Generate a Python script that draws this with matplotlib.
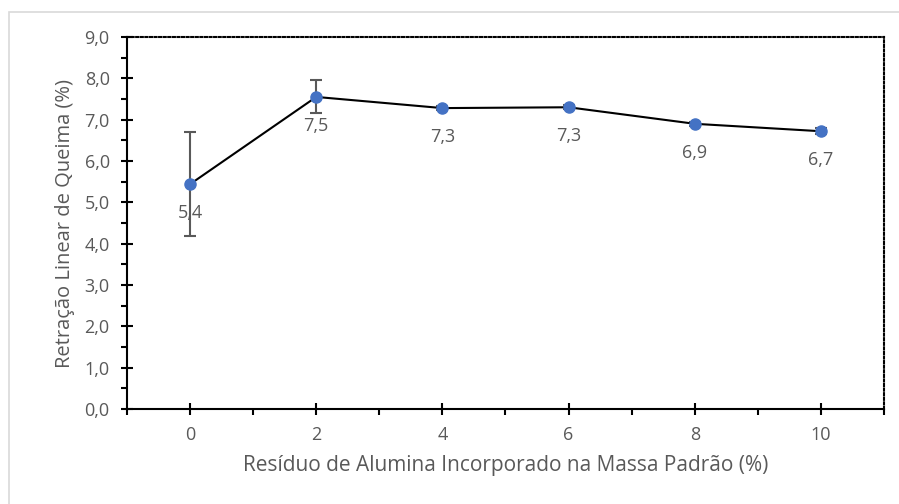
import matplotlib.pyplot as plt
from matplotlib.patches import Rectangle
from matplotlib.ticker import MultipleLocator, FuncFormatter

# residue content (%) and burn shrinkage (%)
residuo = [0, 2, 4, 6, 8, 10]
retracao = [5.44, 7.55, 7.28, 7.30, 6.90, 6.72]
desvio = [1.25, 0.40, 0.05, 0.05, 0.05, 0.07]
rotulos = ["5,4", "7,5", "7,3", "7,3", "6,9", "6,7"]

gray = '#595959'
blue = '#4472C4'
plt.rcParams['font.family'] = ['Open Sans', 'DejaVu Sans']

fig = plt.figure(figsize=(8.99, 5.04), dpi=100)
fig.patches.append(Rectangle((9/899, -0.1), 1.2, 1 - 12/504 + 0.1, transform=fig.transFigure,
                             fill=False, edgecolor='#d9d9d9', lw=1.2))
ax = fig.add_axes([127/899, 1 - 409/504, (884 - 127)/899, (409 - 37)/504])

ax.errorbar(residuo, retracao, yerr=desvio, fmt='none', ecolor=gray, elinewidth=1.5,
            capsize=4.5, capthick=1.5, zorder=2)
ax.plot(residuo, retracao, '-', color='black', lw=1.5, zorder=3)
ax.plot(residuo, retracao, 'o', color=blue, ms=8, zorder=4)
for x, y, t in zip(residuo, retracao, rotulos):
    ax.annotate(t, (x, y), xytext=(0, -21), textcoords='offset points',
                ha='center', va='center', color=gray, fontsize=13, zorder=5)

ax.set_xlim(-1, 11)
ax.set_ylim(0, 9)
ax.xaxis.set_major_locator(MultipleLocator(2))
ax.xaxis.set_minor_locator(MultipleLocator(1))
ax.yaxis.set_major_locator(MultipleLocator(1))
ax.yaxis.set_minor_locator(MultipleLocator(0.5))
ax.yaxis.set_major_formatter(FuncFormatter(lambda v, p: f"{v:.1f}".replace('.', ',')))

ax.tick_params(which='major', direction='inout', length=9, width=1.5, color='black',
               labelcolor=gray, labelsize=13, pad=8)
ax.tick_params(which='minor', direction='out', length=4.5, width=1.5, color='black')

for s in ['left', 'bottom']:
    ax.spines[s].set_linewidth(1.5)
for s in ['top', 'right']:
    ax.spines[s].set_linewidth(1.5)
    ax.spines[s].set_linestyle((0, (1, 1.2)))

ax.set_xlabel('Resíduo de Alumina Incorporado na Massa Padrão (%)', color=gray, fontsize=15, labelpad=8)
ax.set_ylabel('Retração Linear de Queima (%)', color=gray, fontsize=14.5, labelpad=7)

fig.savefig('out.png', dpi=100)
